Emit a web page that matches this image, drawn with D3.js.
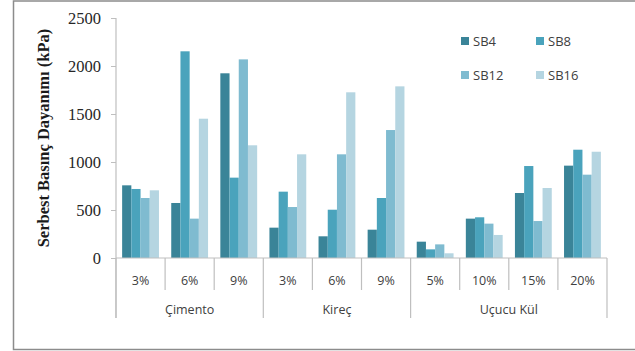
<!DOCTYPE html>
<html>
<head>
<meta charset="utf-8">
<script src="https://cdn.jsdelivr.net/npm/d3@7"></script>
<style>
  body { margin: 0; background: #fff; }
  svg { display: block; }
</style>
</head>
<body>
<svg id="chart" width="635" height="351"></svg>
<script>
// groups and their categories (x axis, two levels)
var groups = ["Çimento", "Kireç", "Uçucu Kül"];
var categories = ["3%", "6%", "9%", "3%", "6%", "9%", "5%", "10%", "15%", "20%"];
var categoryGroup = [0, 0, 0, 1, 1, 1, 2, 2, 2, 2];

var seriesNames = ["SB4", "SB8", "SB12", "SB16"];
var seriesColors = ["#3a8498", "#4aa3bc", "#7fbbd0", "#b5d5e1"];

// values (kPa)
var sb4  = [757, 573, 1924, 316, 226, 295, 170, 410, 677, 962];
var sb8  = [719, 2153, 837, 691, 503, 625, 90, 424, 958, 1128];
var sb12 = [625, 410, 2069, 531, 1080, 1333, 142, 358, 385, 868];
var sb16 = [705, 1451, 1174, 1080, 1726, 1788, 49, 240, 729, 1107];
var series = [sb4, sb8, sb12, sb16];

var yTicks = [0, 500, 1000, 1500, 2000, 2500];

var svg = d3.select("#chart");

var plotLeft = 116, plotRight = 607, plotTop = 18, plotBottom = 258;

// outer frame
svg.append("rect")
    .attr("x", 13.5).attr("y", 1)
    .attr("width", 640).attr("height", 348.5)
    .attr("fill", "none")
    .attr("stroke", "#8c8c8c")
    .attr("stroke-width", 1.5);

var x = d3.scaleBand()
    .domain(d3.range(categories.length))
    .range([plotLeft, plotRight])
    .paddingInner(0.25)
    .paddingOuter(0.125);

var xs = d3.scaleBand()
    .domain(d3.range(seriesNames.length))
    .range([0, x.bandwidth()]);

var y = d3.scaleLinear().domain([0, 2500]).range([plotBottom, plotTop]);

// y axis
var yAxis = svg.append("g")
    .attr("transform", "translate(" + plotLeft + ",0)")
    .call(d3.axisLeft(y).tickValues(yTicks).tickFormat(d3.format("d")).tickSize(5).tickPadding(10));
yAxis.select(".domain").remove();
yAxis.selectAll(".tick line").attr("stroke", "#bfbfbf");
yAxis.selectAll("text")
    .attr("font-family", "Liberation Serif, Times New Roman, serif")
    .attr("font-size", 16.5)
    .attr("fill", "#262626");

svg.append("line")
    .attr("x1", plotLeft).attr("x2", plotLeft)
    .attr("y1", plotTop).attr("y2", 318)
    .attr("stroke", "#bfbfbf").attr("stroke-width", 1.2);

// y title
svg.append("text")
    .attr("transform", "translate(43," + ((plotTop + plotBottom) / 2) + ") rotate(-90)")
    .attr("dy", "0.35em")
    .attr("text-anchor", "middle")
    .attr("font-family", "Liberation Serif, Times New Roman, serif")
    .attr("font-weight", "bold")
    .attr("font-size", 16.5)
    .attr("fill", "#1a1a1a")
    .text("Serbest Basınç Dayanımı (kPa)");

// bars
series.forEach(function(vals, s){
    svg.append("g").selectAll("rect")
        .data(vals)
        .enter()
        .append("rect")
        .attr("x", function(d, i){ return x(i) + xs(s); })
        .attr("y", function(d){ return y(d); })
        .attr("width", xs.bandwidth())
        .attr("height", function(d){ return y(0) - y(d); })
        .attr("fill", seriesColors[s]);
});

// x axis line
svg.append("line")
    .attr("x1", plotLeft).attr("x2", plotRight)
    .attr("y1", plotBottom).attr("y2", plotBottom)
    .attr("stroke", "#bfbfbf").attr("stroke-width", 1.2);

var step = x.step();
// separators between categories
for (var i = 0; i <= categories.length; i++) {
    var sx = plotLeft + i * step;
    var isGroupEdge = (i == 0 || i == categories.length || categoryGroup[i] != categoryGroup[i - 1]);
    svg.append("line")
        .attr("x1", sx).attr("x2", sx)
        .attr("y1", plotBottom).attr("y2", isGroupEdge ? 318 : 290)
        .attr("stroke", "#bfbfbf").attr("stroke-width", 1.2);
}

// category labels
svg.append("g").selectAll("text")
    .data(categories)
    .enter()
    .append("text")
    .attr("x", function(d, i){ return x(i) + x.bandwidth() / 2; })
    .attr("y", 285)
    .attr("text-anchor", "middle")
    .attr("font-family", "Open Sans, Liberation Sans, sans-serif")
    .attr("font-size", 12.5)
    .attr("fill", "#404040")
    .text(function(d){ return d; });

// group labels
groups.forEach(function(g, gi){
    var idx = d3.range(categories.length).filter(function(i){ return categoryGroup[i] == gi; });
    var x0 = plotLeft + idx[0] * step, x1 = plotLeft + (idx[idx.length - 1] + 1) * step;
    svg.append("text")
        .attr("x", (x0 + x1) / 2)
        .attr("y", 314)
        .attr("text-anchor", "middle")
        .attr("font-family", "Open Sans, Liberation Sans, sans-serif")
        .attr("font-size", 12.5)
        .attr("fill", "#404040")
        .text(g);
});

// legend
var legendPos = [[461, 41], [536, 41], [461, 75], [536, 75]];
seriesNames.forEach(function(n, s){
    var p = legendPos[s];
    svg.append("rect")
        .attr("x", p[0]).attr("y", p[1] - 4)
        .attr("width", 8).attr("height", 8)
        .attr("fill", seriesColors[s]);
    svg.append("text")
        .attr("x", p[0] + 12).attr("y", p[1] + 5)
        .attr("font-family", "Open Sans, Liberation Sans, sans-serif")
        .attr("font-size", 13)
        .attr("fill", "#404040")
        .text(n);
});
</script>
</body>
</html>
